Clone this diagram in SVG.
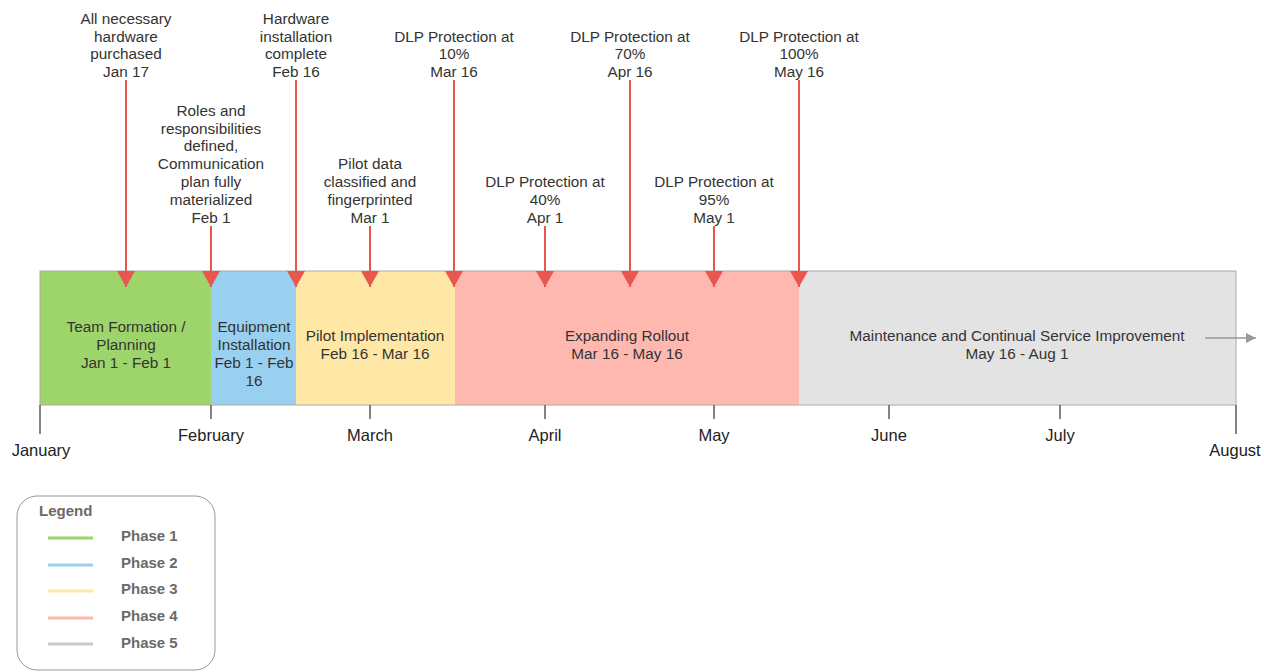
<svg xmlns="http://www.w3.org/2000/svg" width="1264" height="672" viewBox="0 0 1264 672">
<defs>
<style>
text{font-family:"Liberation Sans",Arial,sans-serif;font-size:15.3px;fill:#333;text-anchor:middle}
.ms line{stroke:#e8574d;stroke-width:2}
.tick{stroke:#333;stroke-width:1.2}
.mon{font-size:16.5px;fill:#222}
.lg{font-weight:bold;fill:#6a6a6a;text-anchor:start;font-size:15px}
.seg{stroke:none}
</style>
<marker id="ah" viewBox="0 0 16 18" refX="16" refY="9" markerWidth="16" markerHeight="18" markerUnits="userSpaceOnUse" orient="auto">
<path d="M0,0 L16,9 L0,18 Z" fill="#e8574d"/>
</marker>
<marker id="ga" viewBox="0 0 10 10" refX="10" refY="5" markerWidth="12" markerHeight="10" markerUnits="userSpaceOnUse" orient="auto">
<path d="M0,0 L10,5 L0,10 Z" fill="#999"/>
</marker>
</defs>
<rect width="1264" height="672" fill="#fff"/>
<g id="phases">
<g id="phase1"><rect class="seg" x="40" y="271" width="171" height="134" fill="#9ed56b"/>
<text x="126" y="332">Team Formation /</text><text x="126" y="350">Planning</text><text x="126" y="368">Jan 1 - Feb 1</text></g>
<g id="phase2"><rect class="seg" x="211" y="271" width="85" height="134" fill="#99cfef"/>
<text x="254" y="332">Equipment</text><text x="254" y="350">Installation</text><text x="254" y="368">Feb 1 - Feb</text><text x="254" y="386">16</text></g>
<g id="phase3"><rect class="seg" x="296" y="271" width="159" height="134" fill="#ffe8a6"/>
<text x="375" y="341">Pilot Implementation</text><text x="375" y="359">Feb 16 - Mar 16</text></g>
<g id="phase4"><rect class="seg" x="455" y="271" width="344" height="134" fill="#ffb8b0"/>
<text x="627" y="341">Expanding Rollout</text><text x="627" y="359">Mar 16 - May 16</text></g>
<g id="phase5"><rect class="seg" x="799" y="271" width="437" height="134" fill="#e3e3e3"/>
<text x="1017" y="341">Maintenance and Continual Service Improvement</text><text x="1017" y="359">May 16 - Aug 1</text></g>
<rect x="40" y="271" width="1196" height="134" fill="none" stroke="#aaa" stroke-width="1"/>
</g>
<g id="axis">
<line class="tick" x1="40" y1="405" x2="40" y2="434"/>
<line class="tick" x1="211" y1="405" x2="211" y2="419"/>
<line class="tick" x1="370" y1="405" x2="370" y2="419"/>
<line class="tick" x1="545" y1="405" x2="545" y2="419"/>
<line class="tick" x1="714" y1="405" x2="714" y2="419"/>
<line class="tick" x1="889" y1="405" x2="889" y2="419"/>
<line class="tick" x1="1060" y1="405" x2="1060" y2="419"/>
<line class="tick" x1="1236" y1="405" x2="1236" y2="434"/>
<text class="mon" x="41" y="456">January</text>
<text class="mon" x="211" y="441">February</text>
<text class="mon" x="370" y="441">March</text>
<text class="mon" x="545" y="441">April</text>
<text class="mon" x="714" y="441">May</text>
<text class="mon" x="889" y="441">June</text>
<text class="mon" x="1060" y="441">July</text>
<text class="mon" x="1235" y="456">August</text>
</g>
<g id="connectors" class="ms">
<line x1="126" y1="80" x2="126" y2="287" marker-end="url(#ah)"/>
<line x1="211" y1="226" x2="211" y2="287" marker-end="url(#ah)"/>
<line x1="296" y1="80" x2="296" y2="287" marker-end="url(#ah)"/>
<line x1="370" y1="226" x2="370" y2="287" marker-end="url(#ah)"/>
<line x1="454" y1="80" x2="454" y2="287" marker-end="url(#ah)"/>
<line x1="545" y1="226" x2="545" y2="287" marker-end="url(#ah)"/>
<line x1="630" y1="80" x2="630" y2="287" marker-end="url(#ah)"/>
<line x1="714" y1="226" x2="714" y2="287" marker-end="url(#ah)"/>
<line x1="799" y1="80" x2="799" y2="287" marker-end="url(#ah)"/>
<line x1="1205" y1="338" x2="1256" y2="338" style="stroke:#999;stroke-width:1.5" marker-end="url(#ga)"/>
</g>
<g id="m1"><text x="126" y="24">All necessary</text><text x="126" y="42">hardware</text><text x="126" y="59">purchased</text><text x="126" y="77">Jan 17</text></g>
<g id="m2"><text x="211" y="116">Roles and</text><text x="211" y="134">responsibilities</text><text x="211" y="151">defined,</text><text x="211" y="169">Communication</text><text x="211" y="187">plan fully</text><text x="211" y="205">materialized</text><text x="211" y="223">Feb 1</text></g>
<g id="m3"><text x="296" y="24">Hardware</text><text x="296" y="42">installation</text><text x="296" y="59">complete</text><text x="296" y="77">Feb 16</text></g>
<g id="m4"><text x="370" y="169">Pilot data</text><text x="370" y="187">classified and</text><text x="370" y="205">fingerprinted</text><text x="370" y="223">Mar 1</text></g>
<g id="m5"><text x="454" y="42">DLP Protection at</text><text x="454" y="59">10%</text><text x="454" y="77">Mar 16</text></g>
<g id="m6"><text x="545" y="187">DLP Protection at</text><text x="545" y="205">40%</text><text x="545" y="223">Apr 1</text></g>
<g id="m7"><text x="630" y="42">DLP Protection at</text><text x="630" y="59">70%</text><text x="630" y="77">Apr 16</text></g>
<g id="m8"><text x="714" y="187">DLP Protection at</text><text x="714" y="205">95%</text><text x="714" y="223">May 1</text></g>
<g id="m9"><text x="799" y="42">DLP Protection at</text><text x="799" y="59">100%</text><text x="799" y="77">May 16</text></g>
<g id="legend">
<rect x="17" y="496" width="198" height="174" rx="20" fill="#fff" stroke="#999" stroke-width="1"/>
<text class="lg" x="39" y="516">Legend</text>
<line x1="48" y1="538" x2="93" y2="538" stroke="#9ed56b" stroke-width="3"/>
<line x1="48" y1="565" x2="93" y2="565" stroke="#99cfef" stroke-width="3"/>
<line x1="48" y1="591" x2="93" y2="591" stroke="#ffe8a6" stroke-width="3"/>
<line x1="48" y1="618" x2="93" y2="618" stroke="#ffb8b0" stroke-width="3"/>
<line x1="48" y1="644" x2="93" y2="644" stroke="#c8c8c8" stroke-width="3"/>
<text class="lg" x="121" y="541">Phase 1</text>
<text class="lg" x="121" y="568">Phase 2</text>
<text class="lg" x="121" y="594">Phase 3</text>
<text class="lg" x="121" y="621">Phase 4</text>
<text class="lg" x="121" y="648">Phase 5</text>
</g>
</svg>
